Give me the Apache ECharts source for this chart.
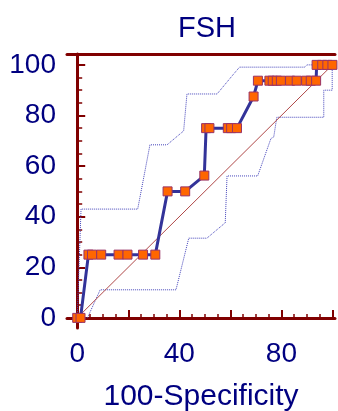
<!DOCTYPE html>
<html>
<head>
<meta charset="utf-8">
<script src="https://cdn.jsdelivr.net/npm/echarts@6/dist/echarts.min.js"></script>
<style>
html, body { margin: 0; padding: 0; background: #fff; }
#roc { width: 338px; height: 411px; }
</style>
</head>
<body>
<div id="roc"></div>
<script>
// ROC curve (100-Specificity vs Sensitivity)
var rocX = [0, 1.3, 4.4, 5.8, 9.4, 16.2, 19.7, 25.8, 30.6, 35.4, 42.3, 49.8, 50.5, 51.8, 59.0, 60.3, 62.6,
            69.1, 70.8, 75.3, 76.6, 78.2, 79.8, 83.4, 86.0, 89.7, 91.5, 93.6, 93.8, 96.0, 98.0, 100];
var rocY = [0, 0, 25, 25, 25, 25, 25, 25, 25, 50, 50, 56.25, 75, 75, 75, 75, 75,
            87.5, 93.75, 93.75, 93.75, 93.75, 93.75, 93.75, 93.75, 93.75, 93.75, 93.75, 100, 100, 100, 100];

// confidence bounds
var upperX = [0, 1.5, 23.7, 28.5, 35.2, 41.7, 43.0, 54.8, 61.3, 63.6, 89.1, 90.0, 100];
var upperY = [0, 43, 43, 68.4, 68.4, 73.9, 88.5, 88.5, 96.4, 99.1, 99.1, 100, 100];
var lowerX = [0, 4.0, 9.0, 38.7, 43.7, 50.8, 58.0, 58.7, 70.7, 75.9, 77.0, 78.2, 96.6, 96.6, 99.9, 99.9, 100];
var lowerY = [0, 0, 11.1, 11.1, 31.5, 31.5, 37.6, 56.1, 56.1, 70.9, 71.5, 79.3, 79.3, 90, 90, 98.7, 100];

var diagX = [0, 100];
var diagY = [0, 100];

var majorTicks = [0, 20, 40, 60, 80, 100];
var minorTicks = [5, 10, 15, 25, 30, 35, 45, 50, 55, 65, 70, 75, 85, 90, 95];
var xLabels = [0, 40, 80];
var yLabels = [0, 20, 40, 60, 80, 100];

function pairs(xs, ys) {
    var out = [];
    for (var i = 0; i < xs.length; i++) {
        out.push([xs[i], ys[i]]);
    }
    return out;
}

var axisRed = '#800000';
var navy = '#000080';
var font = 'Liberation Sans, Arial, sans-serif';

var chart = echarts.init(document.getElementById('roc'));

var option = {
    backgroundColor: '#FFFFFF',
    animation: false,
    title: {
        text: 'FSH',
        left: 173,
        top: 9,
        textStyle: { color: navy, fontSize: 29, fontWeight: 'normal', fontFamily: font }
    },
    grid: { left: 67, right: 3, top: 54, bottom: 83, containLabel: false, outerBoundsMode: 'none' },
    xAxis: [
        {
            type: 'value', min: -4, max: 101, position: 'bottom',
            axisLine: { lineStyle: { color: axisRed, width: 3 } },
            axisTick: { inside: true, length: 8, customValues: majorTicks, lineStyle: { color: axisRed, width: 2 } },
            axisLabel: { customValues: xLabels, color: navy, fontSize: 28, margin: 12, fontFamily: font },
            splitLine: { show: false },
            name: '100-Specificity',
            nameLocation: 'middle',
            nameGap: 54,
            nameTextStyle: { color: navy, fontSize: 30, fontFamily: font }
        },
        {
            type: 'value', min: -4, max: 101, position: 'bottom',
            axisLine: { show: false },
            axisTick: { inside: true, length: 4, customValues: minorTicks, lineStyle: { color: axisRed, width: 1.5 } },
            axisLabel: { show: false },
            splitLine: { show: false }
        },
        {
            type: 'value', min: -4, max: 101, position: 'top',
            axisLine: { lineStyle: { color: axisRed, width: 3 } },
            axisTick: { show: false },
            axisLabel: { show: false },
            splitLine: { show: false }
        }
    ],
    yAxis: [
        {
            type: 'value', min: -4, max: 104.3, position: 'left',
            axisLine: { lineStyle: { color: axisRed, width: 3 } },
            axisTick: { inside: true, length: 8, customValues: majorTicks, lineStyle: { color: axisRed, width: 2 } },
            axisLabel: { customValues: yLabels, color: navy, fontSize: 28, margin: 11, fontFamily: font },
            splitLine: { show: false }
        },
        {
            type: 'value', min: -4, max: 104.3, position: 'left',
            axisLine: { show: false },
            axisTick: { inside: true, length: 5, customValues: minorTicks, lineStyle: { color: axisRed, width: 1.5 } },
            axisLabel: { show: false },
            splitLine: { show: false }
        }
    ],
    series: [
        {
            name: 'upper', type: 'line', data: pairs(upperX, upperY),
            symbol: 'none', lineStyle: { color: '#4444BB', width: 1, type: 'dotted' }
        },
        {
            name: 'lower', type: 'line', data: pairs(lowerX, lowerY),
            symbol: 'none', lineStyle: { color: '#4444BB', width: 1, type: 'dotted' }
        },
        {
            name: 'diagonal', type: 'line', data: pairs(diagX, diagY),
            symbol: 'none', lineStyle: { color: '#B04848', width: 1 }
        },
        {
            name: 'ROC', type: 'line', data: pairs(rocX, rocY),
            symbol: 'rect', symbolSize: 9,
            lineStyle: { color: '#333399', width: 3 },
            itemStyle: { color: '#FF6600', borderColor: '#993366', borderWidth: 1 }
        }
    ]
};

chart.setOption(option);
window.addEventListener('resize', function () {
    chart.resize();
});
</script>
</body>
</html>
